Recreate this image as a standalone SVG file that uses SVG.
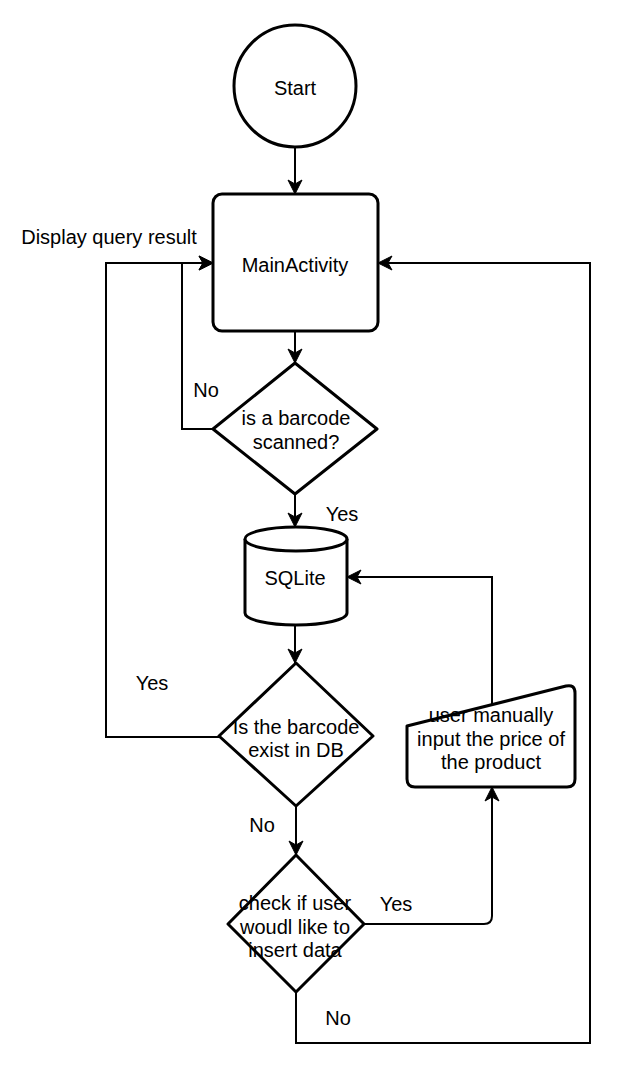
<svg xmlns="http://www.w3.org/2000/svg" width="630" height="1080" viewBox="0 0 630 1080">
<style>
.s{fill:#fff;stroke:#000;stroke-width:3;stroke-linejoin:round}
.c{fill:none;stroke:#000;stroke-width:2}
.t{font-family:"Liberation Sans",Arial,sans-serif;font-size:20px;fill:#000;text-anchor:middle;dominant-baseline:central}
</style>
<defs>
<marker id="a" markerUnits="userSpaceOnUse" markerWidth="16" markerHeight="16" viewBox="0 0 16 16" refX="15" refY="8" orient="auto">
<path d="M1,1 L15,8 L1,15 L5,8 Z" fill="#000" stroke="#000" stroke-width="1" stroke-linejoin="miter"/>
</marker>
</defs>
<g id="connectors">
<path class="c" d="M295,147 L295,194" marker-end="url(#a)"/>
<path class="c" d="M295,331 L295,363" marker-end="url(#a)"/>
<path class="c" d="M213,429 L182,429 L182,263 L213,263" marker-end="url(#a)"/>
<path class="c" d="M219,737 L106,737 L106,263 L213,263" marker-end="url(#a)"/>
<path class="c" d="M295,494 L295,527" marker-end="url(#a)"/>
<path class="c" d="M295,625 L295,663" marker-end="url(#a)"/>
<path class="c" d="M296,806 L296,855" marker-end="url(#a)"/>
<path class="c" d="M364,924 L484,924 Q492,924 492,916 L492,787" marker-end="url(#a)"/>
<path class="c" d="M492,705 L492,577 L347,577" marker-end="url(#a)"/>
<path class="c" d="M296,992 L296,1043 L590,1043 L590,263 L378,263" marker-end="url(#a)"/>
</g>
<g id="start">
<circle class="s" cx="295" cy="86" r="61"/>
<text class="t" x="295" y="88">Start</text>
</g>
<g id="mainactivity">
<rect class="s" x="213" y="194" width="165" height="137" rx="9"/>
<text class="t" x="295" y="265">MainActivity</text>
</g>
<g id="scanned">
<path class="s" d="M295,363 L377,429 L295,494 L213,429 Z"/>
<text class="t" x="296" y="418">is a barcode</text>
<text class="t" x="296" y="442">scanned?</text>
</g>
<g id="sqlite">
<path class="s" d="M245,539 A51,12 0 0 1 347,539 L347,613 A51,12 0 0 1 245,613 Z"/>
<path class="s" fill="none" d="M245,539 A51,12 0 0 0 347,539"/>
<text class="t" x="295" y="578">SQLite</text>
</g>
<g id="exist">
<path class="s" d="M296,663 L373,736 L296,806 L219,736 Z"/>
<text class="t" x="296" y="727">Is the barcode</text>
<text class="t" x="296" y="750">exist in DB</text>
</g>
<g id="manual">
<path class="s" d="M407,726 L566,686 Q575,684 575,693 L575,779 Q575,787 567,787 L415,787 Q407,787 407,779 Z"/>
<text class="t" x="491" y="715">user manually</text>
<text class="t" x="491" y="739">input the price of</text>
<text class="t" x="491" y="762">the product</text>
</g>
<g id="check">
<path class="s" d="M296,855 L364,924 L296,992 L228,924 Z"/>
<text class="t" x="295" y="903">check if user</text>
<text class="t" x="295" y="927">woudl like to</text>
<text class="t" x="295" y="950">insert data</text>
</g>
<g id="labels">
<text class="t" x="109" y="237">Display query result</text>
<text class="t" x="206" y="390">No</text>
<text class="t" x="342" y="514">Yes</text>
<text class="t" x="152" y="683">Yes</text>
<text class="t" x="262" y="825">No</text>
<text class="t" x="396" y="904">Yes</text>
<text class="t" x="338" y="1018">No</text>
</g>
</svg>
